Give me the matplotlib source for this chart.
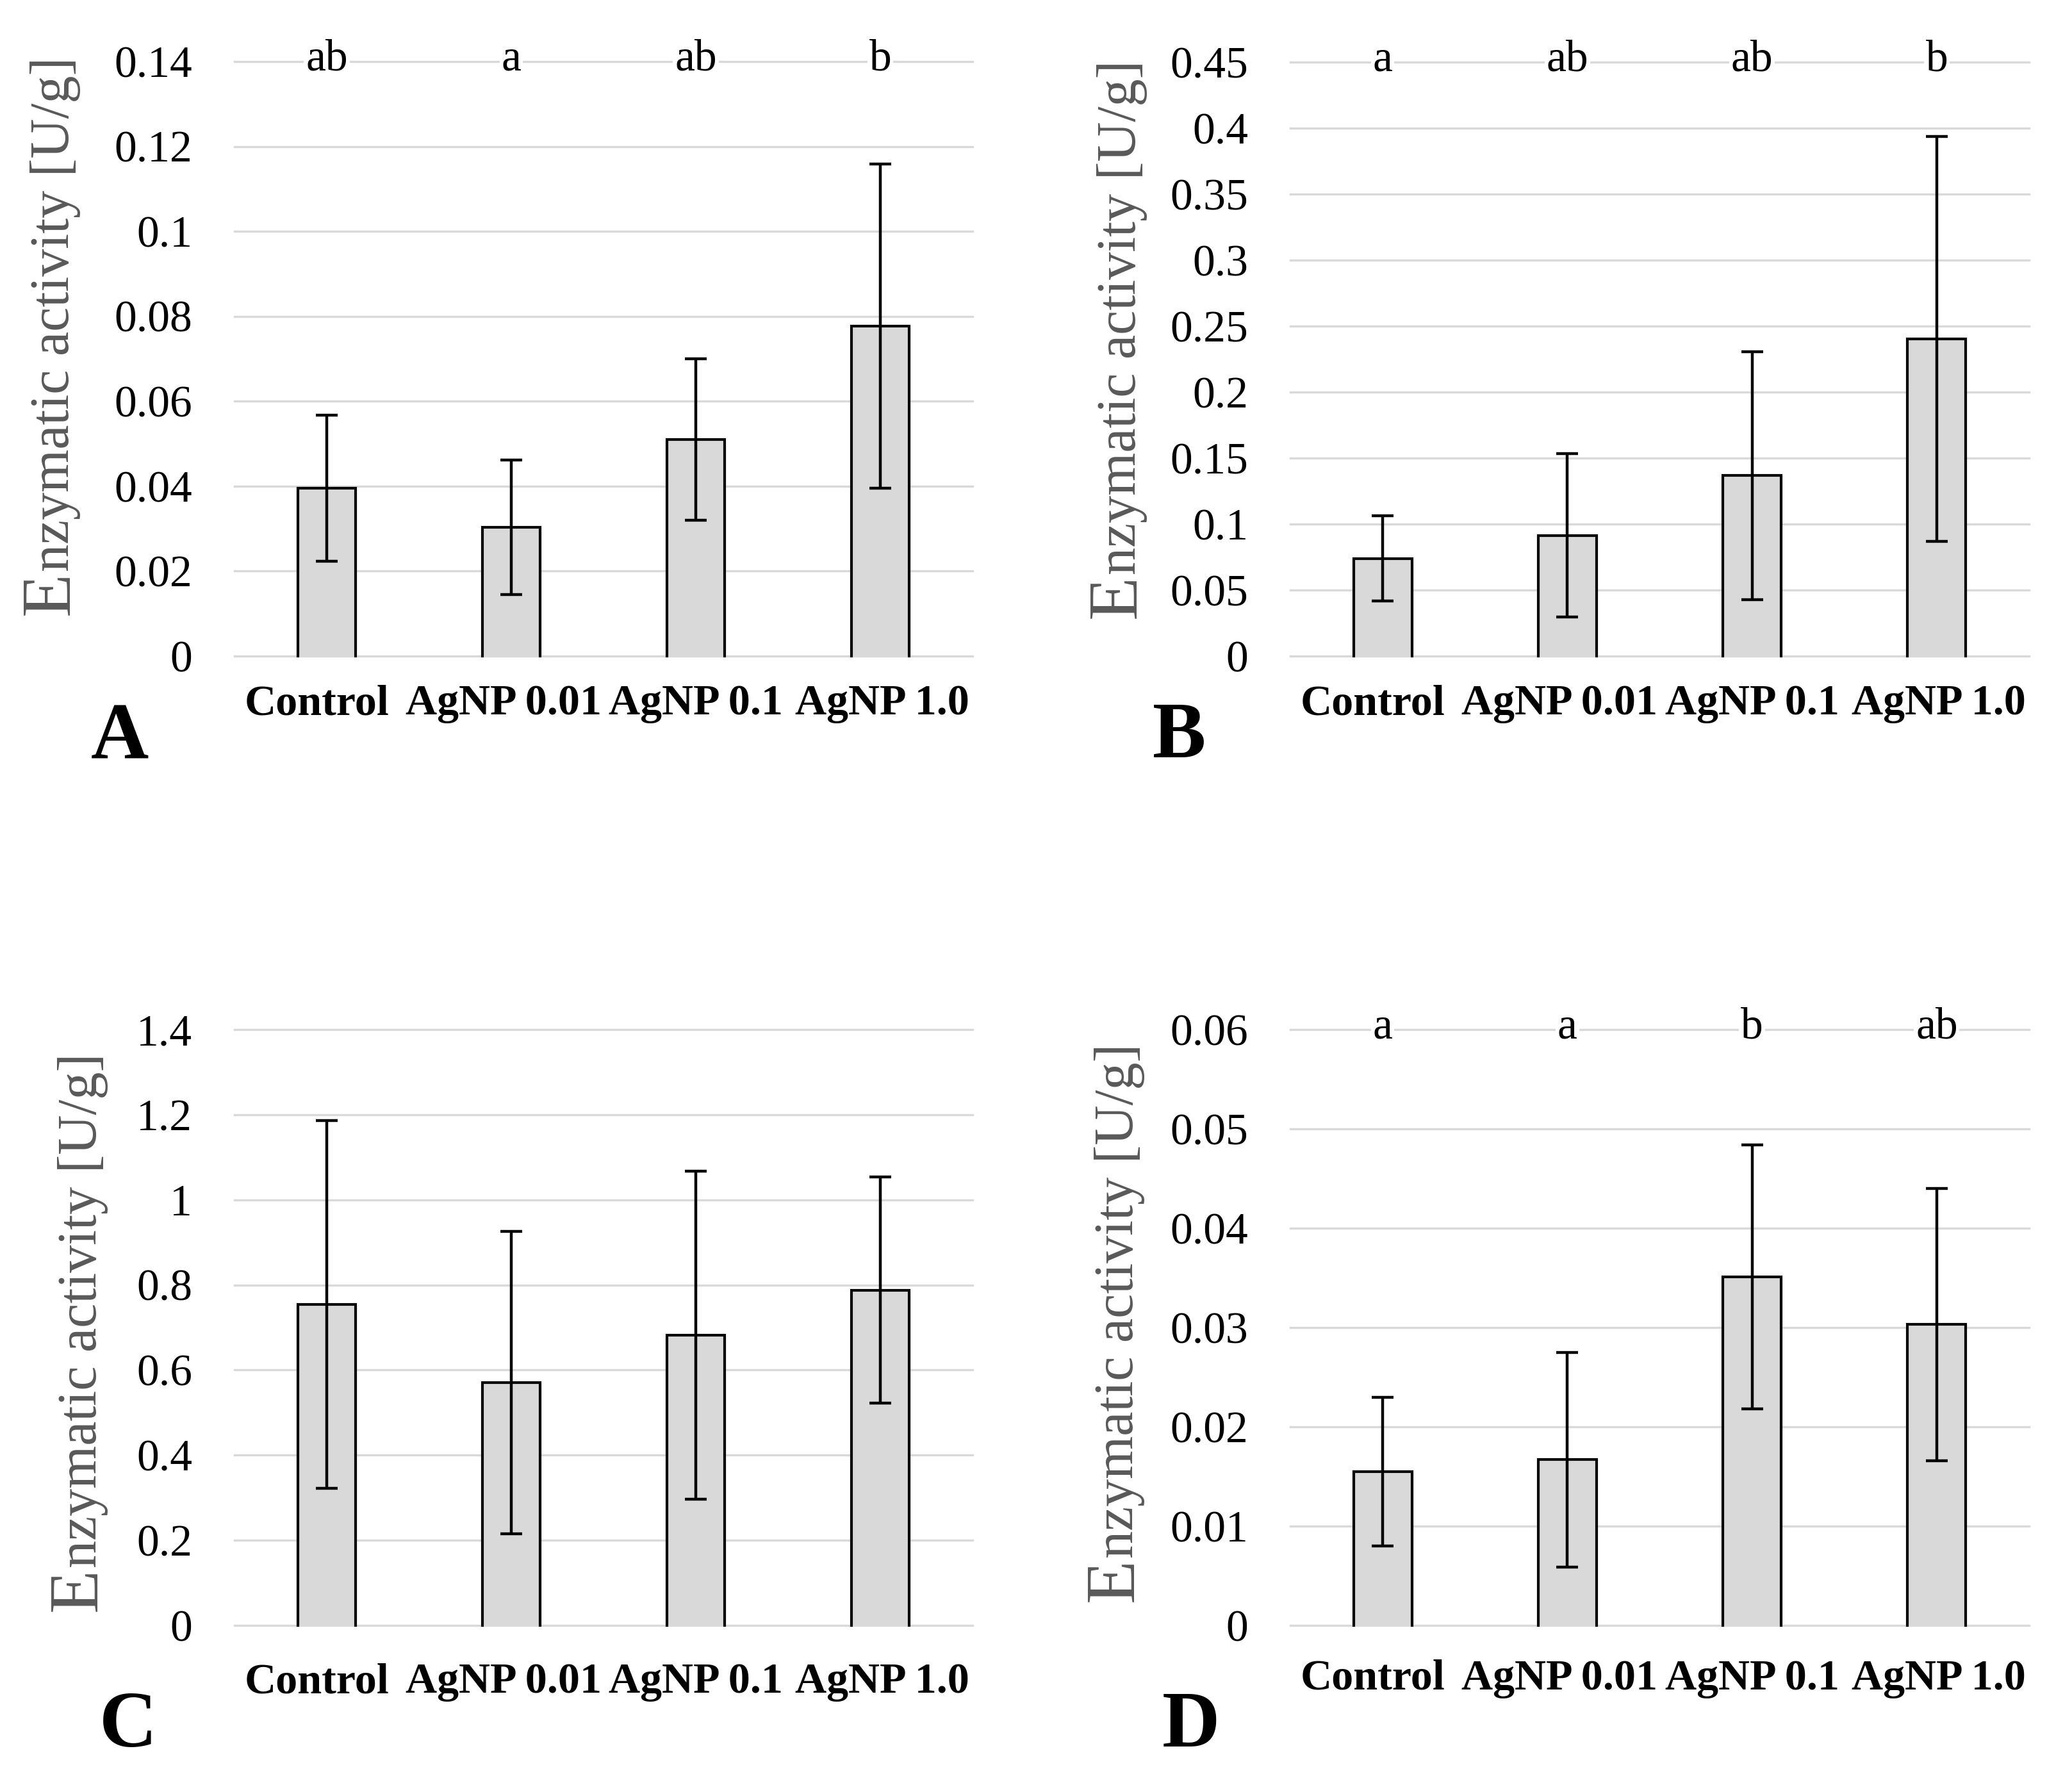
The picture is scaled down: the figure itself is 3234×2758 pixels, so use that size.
import matplotlib
matplotlib.use("Agg")
import matplotlib.pyplot as plt

plt.rcParams['font.family'] = ['Liberation Serif', 'DejaVu Serif']

# data
categories = ["Control", "AgNP 0.01", "AgNP 0.1", "AgNP 1.0"]

means_a = [0.0395, 0.0303, 0.0510, 0.0777]
errs_a = [0.0172, 0.0158, 0.0190, 0.0382]
letters_a = ["ab", "a", "ab", "b"]
ticks_a = [0, 0.02, 0.04, 0.06, 0.08, 0.10, 0.12, 0.14]
ticklabels_a = ["0", "0.02", "0.04", "0.06", "0.08", "0.1", "0.12", "0.14"]

means_b = [0.0740, 0.0914, 0.1367, 0.2405]
errs_b = [0.0322, 0.0618, 0.0941, 0.1534]
letters_b = ["a", "ab", "ab", "b"]
ticks_b = [0, 0.05, 0.10, 0.15, 0.20, 0.25, 0.30, 0.35, 0.40, 0.45]
ticklabels_b = ["0", "0.05", "0.1", "0.15", "0.2", "0.25", "0.3", "0.35", "0.4", "0.45"]

means_c = [0.754, 0.571, 0.682, 0.788]
errs_c = [0.432, 0.355, 0.385, 0.266]
letters_c = None
ticks_c = [0, 0.2, 0.4, 0.6, 0.8, 1.0, 1.2, 1.4]
ticklabels_c = ["0", "0.2", "0.4", "0.6", "0.8", "1", "1.2", "1.4"]

means_d = [0.0155, 0.0167, 0.0351, 0.0303]
errs_d = [0.0075, 0.0108, 0.0133, 0.0137]
letters_d = ["a", "a", "b", "ab"]
ticks_d = [0, 0.01, 0.02, 0.03, 0.04, 0.05, 0.06]
ticklabels_d = ["0", "0.01", "0.02", "0.03", "0.04", "0.05", "0.06"]

W, H = 3234, 2758
DPI = 200
fig = plt.figure(figsize=(W / DPI, H / DPI), dpi=DPI)
fig.patch.set_facecolor('white')

BAR_C = '#D9D9D9'
GRID_C = '#D9D9D9'
LABEL_C = '#595959'
bar_w = 0.315
# small horizontal nudges (px) of the category labels, as laid out in the original
cat_shift = [-16, -12, 0, 3]


def fx(px):
    return px / W


def fy(py):
    return 1 - py / H


# (means, errs, letters, ticks, ticklabels, left, right, top, bottom,
#  label baseline x, label bottom y, panel letter, letter pos, xlabel pad)
panels = [
    (means_a, errs_a, letters_a, ticks_a, ticklabels_a, 366, 1518, 96, 1024,
     107, 960, "A", (142, 1183), 16),
    (means_b, errs_b, letters_b, ticks_b, ticklabels_b, 2014, 3167, 97, 1024,
     1772, 965, "B", (1799, 1182), 16),
    (means_c, errs_c, letters_c, ticks_c, ticklabels_c, 366, 1518, 1607, 2537,
     150, 2515, "C", (155, 2726), 21),
    (means_d, errs_d, letters_d, ticks_d, ticklabels_d, 2014, 3167, 1607, 2537,
     1768, 2500, "D", (1814, 2726), 19),
]

x = list(range(len(categories)))
label_specs = []

for (means, errs, letters, ticks, tlabels, l, r, t, b,
     lbx, lby, pletter, ppos, xpad) in panels:
    ax = fig.add_axes([fx(l), fy(b), (r - l) / W, (b - t) / H])
    ax.set_xlim(-0.5, 3.5)
    ax.set_ylim(0, ticks[-1])
    ax.set_axisbelow(True)
    ax.yaxis.grid(True, color=GRID_C, linewidth=1.2)
    for gl in ax.get_ygridlines():
        gl.set_clip_on(False)

    ax.bar(x, means, width=bar_w, color=BAR_C, edgecolor='none', zorder=2)
    for xi, m in zip(x, means):
        ax.plot([xi - bar_w / 2, xi - bar_w / 2, xi + bar_w / 2, xi + bar_w / 2],
                [0, m, m, 0], color='black', lw=1.5,
                solid_joinstyle='miter', zorder=3, clip_on=False)
    ax.errorbar(x, means, yerr=errs, fmt='none', ecolor='black',
                elinewidth=1.6, capsize=6, capthick=1.6, zorder=4)

    ax.set_yticks(ticks, tlabels)
    ax.set_xticks([])
    ax.tick_params(axis='y', length=0, pad=23.8, labelsize=25)
    for sp in ax.spines.values():
        sp.set_visible(False)

    for xi, cat, dx in zip(x, categories, cat_shift):
        ax.annotate(cat, xy=(xi, 0), xycoords=('data', 'axes fraction'),
                    xytext=(dx * 72 / DPI, -xpad), textcoords='offset points',
                    ha='center', va='top', fontsize=24.5, fontweight='bold',
                    annotation_clip=False)

    if letters:
        for xi, s in zip(x, letters):
            ax.annotate(s, xy=(xi, ticks[-1]), xytext=(0, -4.7),
                        textcoords='offset points', ha='center', va='baseline',
                        fontsize=25, annotation_clip=False, zorder=5,
                        bbox=dict(facecolor='white', edgecolor='none', pad=1))

    fig.text(fx(ppos[0]), fy(ppos[1]), pletter, fontsize=45,
             fontweight='bold', ha='left', va='baseline')
    label_specs.append((lbx, lby))

# y labels: a large "E" followed by the rest of the title
fig.canvas.draw()
renderer = fig.canvas.get_renderer()
for lbx, lby in label_specs:
    e = fig.text(fx(lbx), fy(lby), "E", rotation=90, rotation_mode='anchor',
                 ha='left', va='baseline', fontsize=40, color=LABEL_C)
    ext = e.get_window_extent(renderer)
    fig.text(fx(lbx), fy(lby) + ext.height / H, "nzymatic activity [U/g]",
             rotation=90, rotation_mode='anchor', ha='left', va='baseline',
             fontsize=31, color=LABEL_C)

fig.savefig("out.png", dpi=DPI, facecolor='white')
